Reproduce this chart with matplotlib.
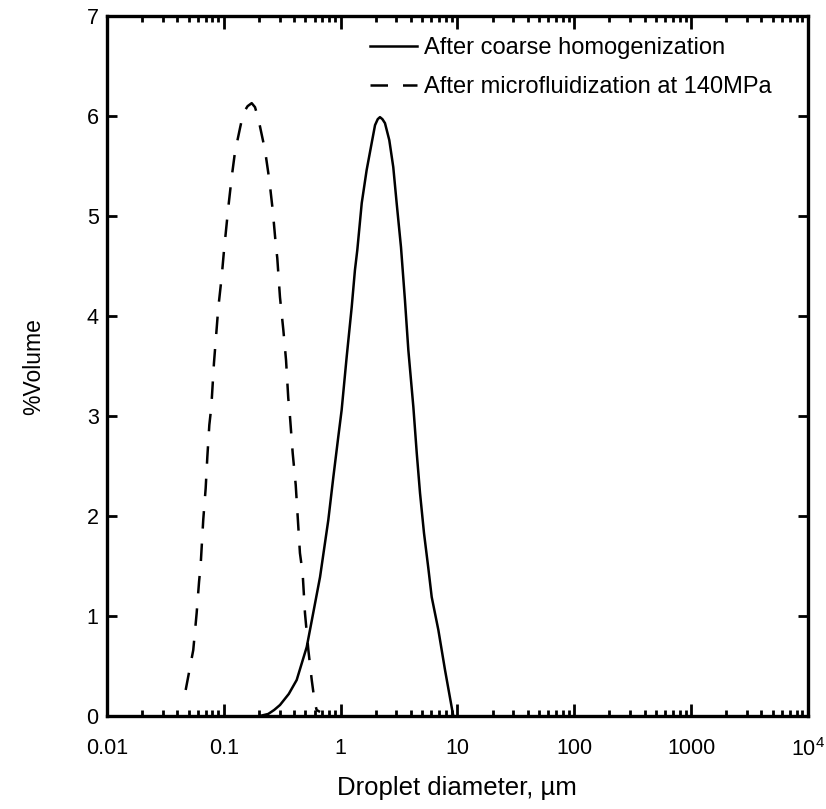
import numpy as np
import matplotlib
matplotlib.use("Agg")
import matplotlib.pyplot as plt
from matplotlib.ticker import FixedLocator, FixedFormatter, LogLocator, NullFormatter

plt.rcParams["font.family"] = ["Liberation Sans", "DejaVu Sans"]
plt.rcParams["mathtext.fontset"] = "custom"
plt.rcParams["mathtext.rm"] = "Liberation Sans"
plt.rcParams["mathtext.it"] = "Liberation Sans"

# droplet diameter (um) and %volume
d_coarse = [0.204, 0.24, 0.27, 0.303, 0.36, 0.421, 0.513, 0.583, 0.667, 0.785, 0.867, 0.955, 1.021,
            1.127, 1.245, 1.327, 1.390, 1.517, 1.671, 1.845, 1.972, 2.08, 2.173, 2.28, 2.399,
            2.612, 2.825, 3.020, 3.289, 3.556, 3.802, 4.198, 4.487, 4.786, 5.176,
            5.636, 6.026, 6.871, 7.834, 9.12, 9.23]
v_coarse = [0.0, 0.02, 0.06, 0.11, 0.22, 0.36, 0.69, 1.03, 1.39, 1.96, 2.39, 2.79, 3.06,
            3.59, 4.09, 4.46, 4.66, 5.13, 5.46, 5.73, 5.91, 5.97, 5.99, 5.97, 5.93,
            5.76, 5.49, 5.13, 4.69, 4.16, 3.66, 3.09, 2.63, 2.23, 1.83,
            1.48, 1.19, 0.86, 0.46, 0.03, 0.0]

d_micro = [0.0472, 0.0548, 0.0586, 0.0614, 0.0634, 0.0667, 0.0700, 0.0723, 0.0752, 0.0782,
           0.0824, 0.0897, 0.0959, 0.1005, 0.1094, 0.1169, 0.1247, 0.1377, 0.1469, 0.160, 0.1734,
           0.185, 0.1972, 0.2254, 0.2455, 0.2624, 0.2780, 0.2871, 0.3027, 0.3236, 0.3412, 0.3565,
           0.3690, 0.3890, 0.4130, 0.4295, 0.4487, 0.4732, 0.4955, 0.5297, 0.5662, 0.60, 0.6237, 0.667]
v_micro = [0.26, 0.66, 1.03, 1.34, 1.51, 1.96, 2.28, 2.59, 2.91, 3.09,
           3.53, 4.08, 4.39, 4.66, 5.09, 5.39, 5.64, 5.88, 6.03, 6.10, 6.13,
           6.09, 5.98, 5.66, 5.36, 5.06, 4.73, 4.58, 4.19, 3.86, 3.56, 3.18,
           2.99, 2.63, 2.31, 1.99, 1.63, 1.43, 1.03, 0.66, 0.36, 0.14, 0.06, 0.04]

x_ticks = [0.01, 0.1, 1, 10, 100, 1000, 10000]
x_labels = ["0.01", "0.1", "1", "10", "100", "1000", r"$10^4$"]
y_ticks = [0, 1, 2, 3, 4, 5, 6, 7]

fig = plt.figure(figsize=(8.26, 8.09), dpi=100)
ax = fig.add_axes([0.1295, 0.115, 0.8485, 0.865])

ax.plot(d_coarse, v_coarse, "k-", lw=1.8, label="After coarse homogenization")
ax.plot(d_micro, v_micro, color="k", lw=1.8, linestyle=(0, (7, 6)),
        label="After microfluidization at 140MPa")

ax.set_xscale("log")
ax.set_xlim(0.01, 10000)
ax.set_ylim(0, 7)
ax.xaxis.set_major_locator(FixedLocator(x_ticks))
ax.xaxis.set_major_formatter(FixedFormatter(x_labels))
ax.xaxis.set_minor_locator(LogLocator(base=10, subs=np.arange(2, 10)))
ax.xaxis.set_minor_formatter(NullFormatter())
ax.set_yticks(y_ticks)

ax.tick_params(which="both", direction="in", top=True, right=True, width=2.0, labelsize=15.5)
ax.tick_params(axis="x", which="major", length=9, pad=16)
ax.tick_params(axis="y", which="major", length=7, pad=6)
ax.tick_params(which="minor", length=4.5)
for s in ax.spines.values():
    s.set_linewidth(2.4)

ax.set_xlabel("Droplet diameter, \u00b5m", fontsize=18.5, labelpad=11)
ax.set_ylabel("%Volume", fontsize=16.5, labelpad=30)

ax.legend(loc="upper left", frameon=False, fontsize=17, handlelength=2.0,
          handletextpad=0.3, labelspacing=0.72, borderpad=0, borderaxespad=0,
          bbox_to_anchor=(0.375, 0.97))

fig.savefig("out.png", dpi=100)
